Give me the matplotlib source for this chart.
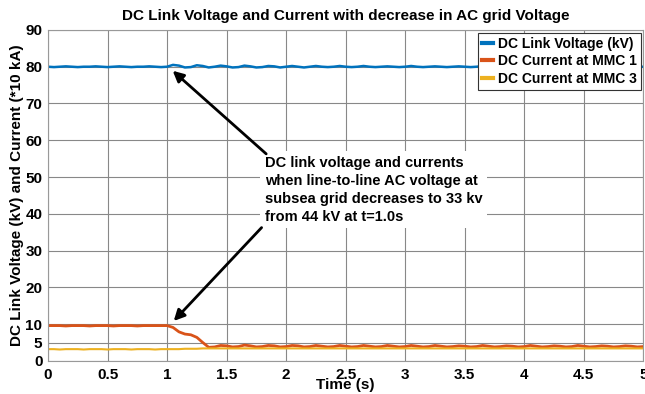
import numpy as np
from matplotlib import pyplot as plt

plt.rcParams['font.family'] = ['Liberation Sans', 'DejaVu Sans']
plt.rcParams['font.weight'] = 'bold'

# sampling grid (s), 0.05 s step
t = np.round(np.arange(0, 5.001, 0.05), 2)

# DC link voltage (kV)
v_dc = [80.0, 79.9, 80.0, 80.1, 80.0, 79.9, 80.0, 80.0, 80.1, 80.0,
        79.9, 80.0, 80.1, 80.0, 79.9, 80.0, 80.0, 80.1, 80.0, 79.9,
        80.0, 80.5, 80.3, 79.8, 79.9, 80.4, 80.2, 79.8, 80.0, 80.3,
        80.1, 79.8, 79.9, 80.3, 80.1, 79.8, 79.9, 80.2, 80.1, 79.8,
        80.0, 80.2, 80.0, 79.8, 80.0, 80.2, 80.0, 79.9, 80.0, 80.2,
        80.0, 79.9, 80.0, 80.2, 80.0, 79.9, 80.0, 80.1, 80.0, 79.9,
        80.0, 80.2, 80.0, 79.9, 80.0, 80.1, 80.0, 79.9, 80.0, 80.1,
        80.0, 79.9, 80.0, 80.2, 80.0, 79.9, 80.0, 80.1, 80.0, 79.9,
        80.0, 80.2, 80.0, 79.9, 80.0, 80.1, 80.0, 79.9, 80.0, 80.2,
        80.0, 79.9, 80.0, 80.1, 80.0, 79.9, 80.0, 80.2, 80.0, 79.9,
        80.0]

# DC current at MMC 1 (*10 kA)
i_mmc1 = [9.6, 9.6, 9.6, 9.5, 9.6, 9.6, 9.6, 9.5, 9.6, 9.6,
          9.6, 9.5, 9.6, 9.6, 9.6, 9.5, 9.6, 9.6, 9.6, 9.6,
          9.6, 9.1, 7.9, 7.3, 7.1, 6.4, 5.0, 3.7, 3.8, 4.2,
          4.1, 3.8, 3.9, 4.3, 4.1, 3.8, 3.9, 4.2, 4.1, 3.8,
          3.9, 4.2, 4.1, 3.8, 3.9, 4.2, 4.0, 3.8, 3.9, 4.2,
          4.0, 3.8, 3.9, 4.2, 4.0, 3.8, 3.9, 4.2, 4.0, 3.8,
          3.9, 4.2, 4.0, 3.8, 3.9, 4.2, 4.0, 3.8, 3.9, 4.1,
          4.0, 3.8, 3.9, 4.2, 4.0, 3.8, 3.9, 4.1, 4.0, 3.8,
          3.9, 4.2, 4.0, 3.8, 3.9, 4.1, 4.0, 3.8, 3.9, 4.2,
          4.0, 3.8, 3.9, 4.1, 4.0, 3.8, 3.9, 4.1, 4.0, 3.8,
          3.9]

# DC current at MMC 3 (*10 kA)
i_mmc3 = [3.2, 3.2, 3.1, 3.2, 3.2, 3.2, 3.1, 3.2, 3.2, 3.2,
          3.1, 3.2, 3.2, 3.2, 3.1, 3.2, 3.2, 3.2, 3.1, 3.2,
          3.2, 3.2, 3.2, 3.3, 3.3, 3.3, 3.4, 3.4, 3.4, 3.4,
          3.4, 3.4, 3.4, 3.4, 3.4, 3.4, 3.4, 3.4, 3.4, 3.4,
          3.4, 3.4, 3.4, 3.4, 3.4, 3.4, 3.4, 3.4, 3.4, 3.4,
          3.4, 3.4, 3.4, 3.4, 3.4, 3.4, 3.4, 3.4, 3.4, 3.4,
          3.4, 3.4, 3.4, 3.4, 3.4, 3.4, 3.4, 3.4, 3.4, 3.4,
          3.4, 3.4, 3.4, 3.4, 3.4, 3.4, 3.4, 3.4, 3.4, 3.4,
          3.4, 3.4, 3.4, 3.4, 3.4, 3.4, 3.4, 3.4, 3.4, 3.4,
          3.4, 3.4, 3.4, 3.4, 3.4, 3.4, 3.4, 3.4, 3.4, 3.4,
          3.4]

x_ticks = [0, 0.5, 1, 1.5, 2, 2.5, 3, 3.5, 4, 4.5, 5]
x_labels = ['0', '0.5', '1', '1.5', '2', '2.5', '3', '3.5', '4', '4.5', '5']
y_ticks = [0, 5, 10, 20, 30, 40, 50, 60, 70, 80, 90]

note = ("DC link voltage and currents\n"
        "when line-to-line AC voltage at\n"
        "subsea grid decreases to 33 kv\n"
        "from 44 kV at t=1.0s")


def main():
    fig = plt.figure(figsize=(6.45, 3.94), dpi=100)
    ax = fig.add_axes([0.0744, 0.084, 0.923, 0.84])

    ax.plot(t, v_dc, color='#0072BD', lw=1.8, label='DC Link Voltage (kV)')
    ax.plot(t, i_mmc1, color='#D95319', lw=2.0, label='DC Current at MMC 1')
    ax.plot(t, i_mmc3, color='#EDB120', lw=1.5, label='DC Current at MMC 3')

    ax.set_xlim(0, 5)
    ax.set_ylim(0, 90)
    ax.set_xticks(x_ticks)
    ax.set_xticklabels(x_labels)
    ax.set_yticks(y_ticks)
    ax.tick_params(axis='x', labelsize=11, length=0, pad=5)
    ax.tick_params(axis='y', labelsize=11, length=0, pad=4)
    ax.grid(True, color='#888888', lw=0.8)
    for s in ax.spines.values():
        s.set_color('#999999')

    ax.set_title('DC Link Voltage and Current with decrease in AC grid Voltage',
                 fontsize=11, fontweight='bold', pad=7)
    ax.set_xlabel('Time (s)', fontsize=11, fontweight='bold', labelpad=-3)
    ax.set_ylabel('DC Link Voltage (kV) and Current (*10 kA)', fontsize=11,
                  fontweight='bold', labelpad=1)

    leg = ax.legend(loc='upper right', fontsize=10, handlelength=0.8,
                    handletextpad=0.3, borderaxespad=0.2, fancybox=False,
                    framealpha=1, borderpad=0.3, labelspacing=0.25)
    leg.get_frame().set_edgecolor('#333333')
    leg.get_frame().set_linewidth(0.8)
    for line in leg.get_lines():
        line.set_linewidth(3)

    ax.text(1.82, 46.5, note, fontsize=10.5, fontweight='bold', va='center',
            ha='left', linespacing=1.38,
            bbox=dict(facecolor='white', edgecolor='none', pad=3))

    arrow = dict(arrowstyle='-|>', color='black', lw=2, mutation_scale=16)
    ax.annotate('', xy=(1.03, 79.4), xytext=(1.85, 55.8), arrowprops=arrow)
    ax.annotate('', xy=(1.04, 10.3), xytext=(1.81, 36.8), arrowprops=arrow)

    fig.savefig('out.png', dpi=100)


if __name__ == "__main__":
    main()
